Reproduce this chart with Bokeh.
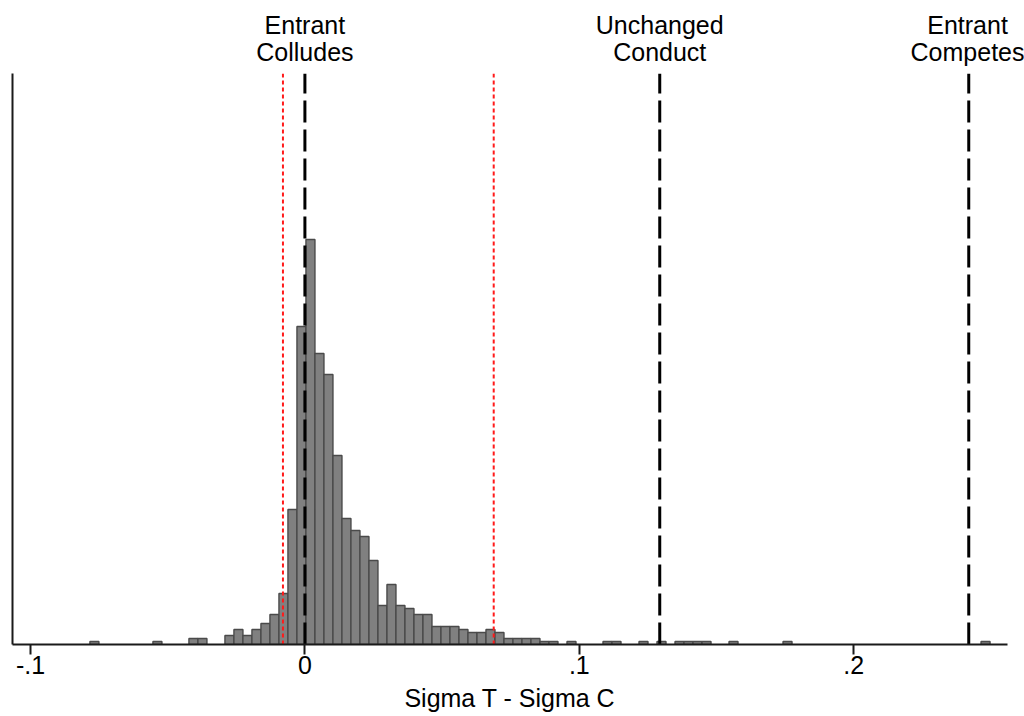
import numpy as np
from bokeh.plotting import figure
from bokeh.models import Range1d, FixedTicker, ColumnDataSource, LinearAxis
from bokeh.embed import file_html
from bokeh.resources import INLINE

# ---- data ----
x_ticks = [-0.1, 0.0, 0.1, 0.2]
x_tick_labels = ["-.1", "0", ".1", ".2"]

bin_first_left = -0.07834
bin_width = 0.00328
counts = [
    1, 0, 0, 0, 0, 0, 0, 1, 0, 0,
    0, 2, 2, 0, 0, 3, 5, 3, 5, 7,
    10, 17, 45, 106, 135, 97, 90, 63, 42, 38,
    36, 28, 13, 20, 13, 12, 10, 10, 6, 6,
    6, 5, 4, 4, 5, 4, 2, 2, 2, 2,
    1, 1, 0, 1, 0, 0, 0, 1, 1, 0,
    0, 1, 0, 1, 0, 1, 1, 1, 1, 0,
    0, 1, 0, 0, 0, 0, 0, 1, 0, 0,
    0, 0, 0, 0, 0, 0, 0, 0, 0, 0,
    0, 0, 0, 0, 0, 0, 0, 0, 0, 1,
]

black_lines = [0.0, 0.1293, 0.2419]
red_lines = [-0.0080, 0.0688]
line_labels = ["Entrant\nColludes", "Unchanged\nConduct", "Entrant\nCompetes"]
x_title = "Sigma T - Sigma C"

X0, X1 = -0.10655, 0.25602
Y0, Y1 = 0.0, 190.3

FONT = "Liberation Sans"
FS = "25px"

W, H = 1024, 716
BL, BR, BT, BB = 12, 17, 73, 72

p = figure(width=W, height=H, output_backend="svg", toolbar_location=None,
           x_range=Range1d(X0, X1), y_range=Range1d(Y0, Y1),
           min_border_left=BL, min_border_right=BR,
           min_border_top=BT, min_border_bottom=BB)
p.outline_line_color = None
p.grid.visible = False
p.background_fill_color = "white"
p.border_fill_color = "white"

# histogram
edges = bin_first_left + bin_width * np.arange(len(counts) + 1)
c = np.array(counts, dtype=float)
mask = c > 0
src = ColumnDataSource(dict(left=edges[:-1][mask], right=edges[1:][mask],
                            top=c[mask], bottom=np.zeros(mask.sum())))
p.quad(left="left", right="right", top="top", bottom="bottom", source=src,
       fill_color="#808080", line_color="#4a4a4a", line_width=1.4)

# red dotted lines
p.segment(x0=red_lines, y0=[Y0] * len(red_lines), x1=red_lines, y1=[Y1] * len(red_lines),
          line_color="#ff1a1a", line_width=2, line_dash="4 3")
# black dashed lines
p.segment(x0=black_lines, y0=[Y0] * len(black_lines), x1=black_lines, y1=[Y1] * len(black_lines),
          line_color="black", line_width=3, line_dash="22 7")

# y axis: bare line only
ya = p.yaxis[0]
ya.ticker = FixedTicker(ticks=[])
ya.major_tick_line_color = None
ya.minor_tick_line_color = None
ya.major_tick_out = 0
ya.major_tick_in = 0
ya.major_label_standoff = 0
ya.axis_line_width = 2
ya.axis_line_color = "#1a1a1a"

# x axis
ax = p.xaxis[0]
ax.ticker = FixedTicker(ticks=x_ticks)
ax.major_label_overrides = {t: l for t, l in zip(x_ticks, x_tick_labels)}
ax.minor_tick_line_color = None
ax.major_tick_in = 0
ax.major_tick_out = 10
ax.major_tick_line_width = 2
ax.axis_line_width = 2
ax.axis_line_color = "#1a1a1a"
ax.major_tick_line_color = "#1a1a1a"
ax.major_label_standoff = 1
ax.major_label_text_font = FONT
ax.major_label_text_font_size = FS
ax.major_label_text_color = "black"
ax.axis_label = x_title
ax.axis_label_standoff = 7
ax.axis_label_text_font = FONT
ax.axis_label_text_font_size = FS
ax.axis_label_text_font_style = "normal"
ax.axis_label_text_color = "black"

# top axis carrying the labels of the vertical lines
top = LinearAxis(ticker=FixedTicker(ticks=black_lines),
                 major_label_overrides={t: l for t, l in zip(black_lines, line_labels)})
top.axis_line_color = None
top.major_tick_line_color = None
top.minor_tick_line_color = None
top.major_tick_out = 0
top.major_tick_in = 0
top.major_label_standoff = 8
top.major_label_text_font = FONT
top.major_label_text_font_size = FS
top.major_label_text_color = "black"
top.major_label_text_line_height = 0.95
p.add_layout(top, "above")

open("out.html", "w").write(file_html(p, INLINE))
